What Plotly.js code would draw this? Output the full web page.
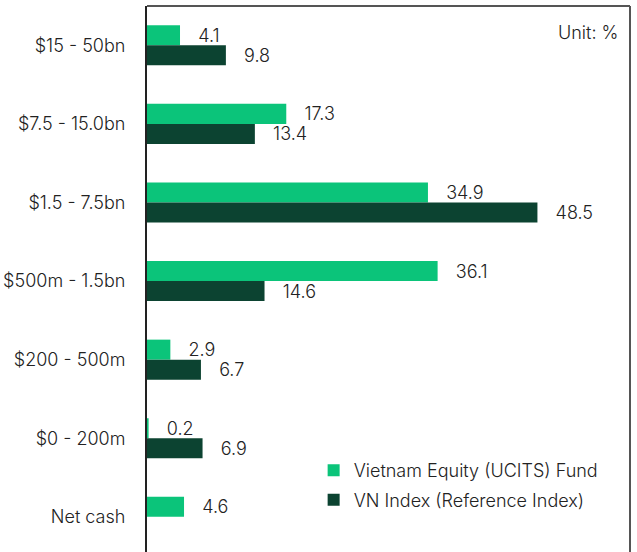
<!DOCTYPE html>
<html>
<head>
<meta charset="utf-8">
<script src="https://cdn.plot.ly/plotly-3.0.1.min.js"></script>
<style>html,body{margin:0;padding:0;background:#fff;}#chart{width:637px;height:552px;}</style>
</head>
<body>
<div id="chart"></div>
<script>
const categories = ["$15 - 50bn", "$7.5 - 15.0bn", "$1.5 - 7.5bn", "$500m - 1.5bn", "$200 - 500m", "$0 - 200m", "Net cash"];
const fundName = "Vietnam Equity (UCITS) Fund";
const indexName = "VN Index (Reference Index)";
const fundValues = [4.1, 17.3, 34.9, 36.1, 2.9, 0.2, 4.6];
const indexValues = [9.8, 13.4, 48.5, 14.6, 6.7, 6.9, null];
const unitLabel = "Unit: %";

const FONT = "Inter, 'DejaVu Sans', sans-serif";
const FS = 18;
const FW = 300;
const pad = "\u00a0\u00a0\u00a0";

function barTrace(name, values, color, group) {
  return {
    type: "bar",
    orientation: "h",
    name: name,
    y: categories,
    x: values,
    legendgroup: group,
    marker: {color: color, line: {width: 0}},
    text: values.map(v => v == null ? "" : pad + v.toFixed(1)),
    textposition: "outside",
    textfont: {family: FONT, size: FS, color: "#222", weight: FW},
    constraintext: "none",
    cliponaxis: false,
    hoverinfo: "skip"
  };
}

const data = [
  barTrace(fundName, fundValues, "#0bc47a", "a"),
  barTrace(indexName, indexValues, "#0c4331", "b")
];

const layout = {
  width: 637,
  height: 552,
  margin: {l: 147, r: 7, t: 6, b: 0},
  paper_bgcolor: "#fff",
  plot_bgcolor: "#fff",
  font: {family: FONT, size: FS, color: "#222", weight: FW},
  barmode: "group",
  bargap: 0.49,
  bargroupgap: 0,
  showlegend: true,
  legend: {
    x: 0.345, y: 0.183, xanchor: "left", yanchor: "top",
    bgcolor: "rgba(0,0,0,0)",
    font: {family: FONT, size: FS, color: "#222", weight: FW},
    tracegroupgap: 3,
    itemclick: false
  },
  xaxis: {
    range: [0, 60],
    showgrid: false, zeroline: false, showticklabels: false, ticks: "",
    showline: false, fixedrange: true
  },
  yaxis: {
    type: "category",
    range: [6.447, -0.5],
    showgrid: false, zeroline: false, ticks: "",
    showline: true, linecolor: "#222", linewidth: 2,
    ticklabelstandoff: 16,
    tickfont: {family: FONT, size: FS, color: "#222", weight: FW},
    fixedrange: true
  },
  shapes: [
    {type: "line", xref: "paper", yref: "paper", x0: 0, x1: 1, y0: 1, y1: 1, line: {color: "#555", width: 2}},
    {type: "line", xref: "paper", yref: "paper", x0: 1, x1: 1, y0: 0, y1: 1, line: {color: "#555", width: 2}}
  ],
  annotations: [
    {text: unitLabel, xref: "paper", yref: "paper", x: 0.98, y: 0.975, xanchor: "right", yanchor: "top", showarrow: false, font: {family: FONT, size: FS, color: "#222", weight: FW}}
  ]
};

Plotly.newPlot("chart", data, layout, {displayModeBar: false, staticPlot: true});
</script>
</body>
</html>
